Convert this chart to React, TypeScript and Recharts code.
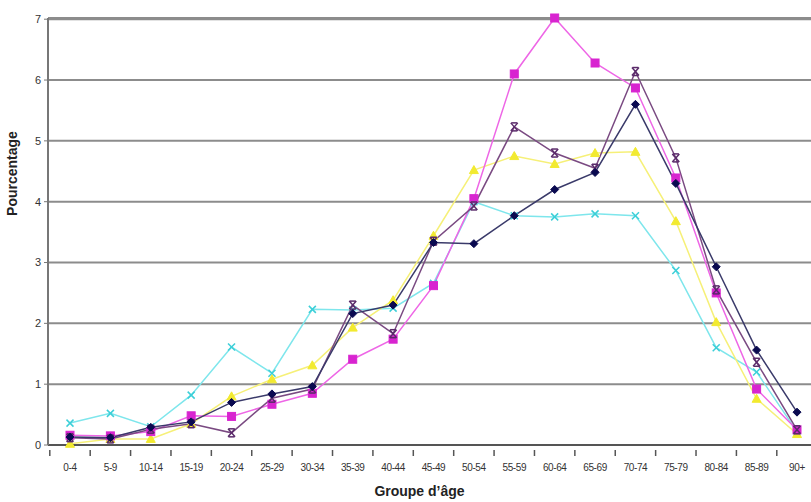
import React from "react";
import { LineChart, Line, XAxis, YAxis, CartesianGrid } from "recharts";

const ageGroups = [
  "0-4", "5-9", "10-14", "15-19", "20-24", "25-29", "30-34", "35-39", "40-44", "45-49",
  "50-54", "55-59", "60-64", "65-69", "70-74", "75-79", "80-84", "85-89", "90+",
];

const navySeries = [0.13, 0.12, 0.29, 0.38, 0.7, 0.84, 0.96, 2.16, 2.3, 3.33, 3.31, 3.77, 4.2, 4.48, 5.6, 4.3, 2.93, 1.56, 0.54];
const magentaSeries = [0.16, 0.15, 0.22, 0.48, 0.47, 0.67, 0.85, 1.41, 1.74, 2.62, 4.05, 6.1, 7.02, 6.28, 5.87, 4.39, 2.5, 0.92, 0.25];
const yellowSeries = [0.02, 0.1, 0.1, 0.35, 0.8, 1.08, 1.31, 1.93, 2.38, 3.44, 4.52, 4.75, 4.62, 4.8, 4.82, 3.68, 2.02, 0.76, 0.18];
const cyanSeries = [0.36, 0.52, 0.3, 0.82, 1.61, 1.18, 2.23, 2.22, 2.25, 2.66, 4.0, 3.77, 3.75, 3.8, 3.77, 2.87, 1.6, 1.2, 0.22];
const purpleSeries = [0.12, 0.1, 0.26, 0.35, 0.2, 0.77, 0.92, 2.3, 1.83, 3.35, 3.93, 5.23, 4.8, 4.55, 6.14, 4.72, 2.55, 1.36, 0.25];

const yTicks = [0, 1, 2, 3, 4, 5, 6, 7];

const data = ageGroups.map((g, i) => ({
  group: g,
  navy: navySeries[i],
  magenta: magentaSeries[i],
  yellow: yellowSeries[i],
  cyan: cyanSeries[i],
  purple: purpleSeries[i],
}));

const Diamond = (props: any) => {
  const { cx, cy } = props;
  if (cx == null || cy == null) return null;
  return <polygon points={`${cx},${cy - 4} ${cx + 4},${cy} ${cx},${cy + 4} ${cx - 4},${cy}`} fill="#0a0a50" stroke="#0a0a50" />;
};

const Square = (props: any) => {
  const { cx, cy } = props;
  if (cx == null || cy == null) return null;
  return <rect x={cx - 4} y={cy - 4} width={8} height={8} fill="#d824d0" stroke="#d824d0" />;
};

const Triangle = (props: any) => {
  const { cx, cy } = props;
  if (cx == null || cy == null) return null;
  return <polygon points={`${cx},${cy - 4.5} ${cx + 4.5},${cy + 3.5} ${cx - 4.5},${cy + 3.5}`} fill="#f2ea30" stroke="#f2ea30" />;
};

const Cross = (props: any) => {
  const { cx, cy } = props;
  if (cx == null || cy == null) return null;
  return (
    <g stroke="#3ccfd8" strokeWidth={1.5}>
      <line x1={cx - 3.5} y1={cy - 3.5} x2={cx + 3.5} y2={cy + 3.5} />
      <line x1={cx - 3.5} y1={cy + 3.5} x2={cx + 3.5} y2={cy - 3.5} />
    </g>
  );
};

const Star = (props: any) => {
  const { cx, cy } = props;
  if (cx == null || cy == null) return null;
  return (
    <g stroke="#5a2a6a" strokeWidth={1.5}>
      <line x1={cx - 3.5} y1={cy - 4} x2={cx + 3.5} y2={cy + 4} />
      <line x1={cx - 3.5} y1={cy + 4} x2={cx + 3.5} y2={cy - 4} />
      <line x1={cx - 3} y1={cy - 4} x2={cx + 3} y2={cy - 4} />
      <line x1={cx - 3} y1={cy + 4} x2={cx + 3} y2={cy + 4} />
    </g>
  );
};

// half of the spacing between two categories, for the boundary tick marks
const HALF_STEP = 20.2;

const AgeTick = (props: any) => {
  const { x, y, payload } = props;
  return (
    <g>
      <line x1={x - HALF_STEP} y1={y - 3} x2={x - HALF_STEP} y2={y + 3} stroke="#555" strokeWidth={1.5} />
      <text
        x={x}
        y={y + 18}
        textAnchor="middle"
        fontSize={10}
        fill="#333"
        fontFamily="'Liberation Sans Narrow', 'Liberation Sans', Arial, sans-serif"
        letterSpacing={-0.4}
      >
        {payload.value}
      </text>
    </g>
  );
};

export default function App() {
  return (
    <div style={{ position: "absolute", left: 0, top: 0, width: 811, height: 502, overflow: "hidden", background: "#fff" }}>
      <LineChart width={811} height={502} data={data} margin={{ top: 18, right: 0, left: 0, bottom: 0 }}>
        <CartesianGrid vertical={false} stroke="#8c8c8c" strokeWidth={2} />
        <XAxis
          dataKey="group"
          height={57}
          padding={{ left: 22, right: 14 }}
          axisLine={{ stroke: "#555", strokeWidth: 2 }}
          tickLine={false}
          interval={0}
          tick={<AgeTick />}
          label={{
            value: "Groupe d\u2019âge",
            position: "insideBottom",
            offset: 6,
            style: { fontSize: 14, fontWeight: 700, fill: "#222", fontFamily: "'Liberation Sans', Arial, sans-serif" },
            dx: -10,
          }}
        />
        <YAxis
          width={48}
          domain={[0, 7]}
          ticks={yTicks}
          interval={0}
          axisLine={{ stroke: "#777", strokeWidth: 2 }}
          tickLine={{ stroke: "#777" }}
          tickSize={4}
          tickMargin={3}
          tick={{ fontSize: 11, fill: "#333", fontFamily: "'Liberation Sans', Arial, sans-serif" }}
          label={{
            value: "Pourcentage",
            angle: -90,
            position: "insideLeft",
            offset: 12,
            dy: -58,
            style: { fontSize: 14, fontWeight: 700, fill: "#222", fontFamily: "'Liberation Sans', Arial, sans-serif", textAnchor: "middle" },
          }}
        />
        <Line dataKey="cyan" stroke="#7ee6ec" strokeWidth={1.5} dot={<Cross />} isAnimationActive={false} />
        <Line dataKey="yellow" stroke="#f6f078" strokeWidth={1.5} dot={<Triangle />} isAnimationActive={false} />
        <Line dataKey="magenta" stroke="#ee66e6" strokeWidth={1.5} dot={<Square />} isAnimationActive={false} />
        <Line dataKey="purple" stroke="#7a4a82" strokeWidth={1.5} dot={<Star />} isAnimationActive={false} />
        <Line dataKey="navy" stroke="#3a3a6a" strokeWidth={1.5} dot={<Diamond />} isAnimationActive={false} />
      </LineChart>
    </div>
  );
}
